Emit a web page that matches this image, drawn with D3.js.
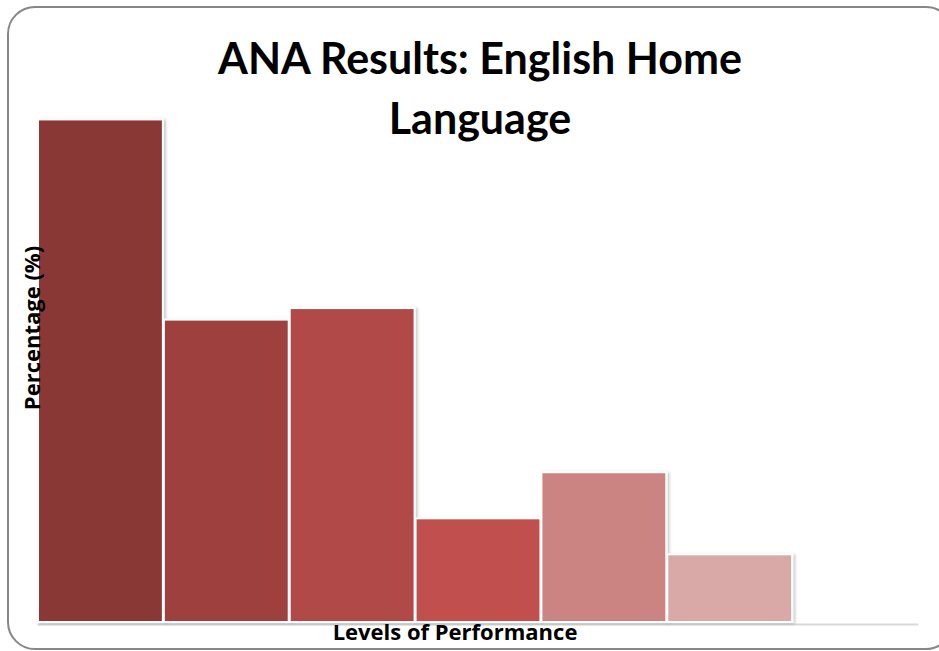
<!DOCTYPE html>
<html>
<head>
<meta charset="utf-8">
<script src="https://cdn.jsdelivr.net/npm/d3@7"></script>
<style>
  body { margin: 0; background: #fff; }
  svg { display: block; }
</style>
</head>
<body>
<div class="plot"></div>
<script>
var W = 939, H = 651;

// ANA levels of performance and percentage of learners in each
var levels = ['Level 1', 'Level 2', 'Level 3', 'Level 4', 'Level 5', 'Level 6', 'Level 7'];
var percentages = [34.9, 21.0, 21.8, 7.2, 10.4, 4.7, 0];
var barColors = ['#8a3735', '#9e403e', '#b04a47', '#c0504d', '#cc8482', '#d9a9a8', '#e6c9c8'];
var titleLines = ['ANA Results: English Home', 'Language'];

var m = {t: 46, r: 21, b: 29, l: 37},
    w = W - m.l - m.r,
    h = H - m.t - m.b;

var svg = d3.select('.plot').append('svg')
    .attr('width', W)
    .attr('height', H);

var defs = svg.append('defs');
var f = defs.append('filter').attr('id', 'shadow')
    .attr('x', '-5%').attr('y', '-5%').attr('width', '115%').attr('height', '115%');
f.append('feDropShadow')
    .attr('dx', 2).attr('dy', 1).attr('stdDeviation', 1.5)
    .attr('flood-color', '#000').attr('flood-opacity', 0.22);

// frame
svg.append('rect')
    .attr('x', 8).attr('y', 7)
    .attr('width', 945).attr('height', 642)
    .attr('rx', 27).attr('ry', 27)
    .attr('fill', 'none')
    .attr('stroke', '#878787')
    .attr('stroke-width', 2);

var plot = svg.append('g')
    .attr('transform', 'translate(' + m.l + ',' + m.t + ')');

var x = d3.scaleBand()
    .domain(levels)
    .range([0, w]);

var y = d3.scaleLinear()
    .domain([0, 40])
    .range([h, 0]);

// category axis line (no ticks or labels)
var xAxis = plot.append('g')
    .attr('transform', 'translate(0,' + (h + 2) + ')')
    .call(d3.axisBottom(x).tickSize(0).tickFormat(''));
xAxis.select('.domain').attr('stroke', '#d9d9d9').attr('stroke-width', 2);

plot.selectAll('rect.bar')
    .data(percentages.map(function(d, i){ return {level: levels[i], value: d, color: barColors[i]}; })
        .filter(function(d){ return d.value > 0; }))
    .enter()
    .append('rect')
    .attr('class', 'bar')
    .attr('x', function(d){ return x(d.level) + 1; })
    .attr('y', function(d){ return y(d.value); })
    .attr('width', x.bandwidth() - 1)
    .attr('height', function(d){ return h - y(d.value); })
    .attr('fill', function(d){ return d.color; })
    .attr('stroke', '#fff')
    .attr('stroke-width', 2)
    .attr('filter', 'url(#shadow)');

var font = 'Lato, "Open Sans", sans-serif';
var axisFont = '"Open Sans", Lato, sans-serif';

svg.append('text')
    .attr('text-anchor', 'middle')
    .style('font-family', font)
    .style('font-weight', 700)
    .style('font-size', '43px')
    .attr('fill', '#000')
    .selectAll('tspan')
    .data(titleLines)
    .enter()
    .append('tspan')
    .attr('x', 480)
    .attr('y', function(d, i){ return 74 + i * 60; })
    .text(function(d){ return d; });

svg.append('text')
    .attr('x', 455)
    .attr('y', 640)
    .attr('text-anchor', 'middle')
    .style('font-family', axisFont)
    .style('font-weight', 700)
    .style('font-size', '22px')
    .text('Levels of Performance');

svg.append('text')
    .attr('transform', 'translate(40,328) rotate(-90)')
    .attr('text-anchor', 'middle')
    .style('font-family', axisFont)
    .style('font-weight', 700)
    .style('font-size', '22px')
    .text('Percentage (%)');
</script>
</body>
</html>
